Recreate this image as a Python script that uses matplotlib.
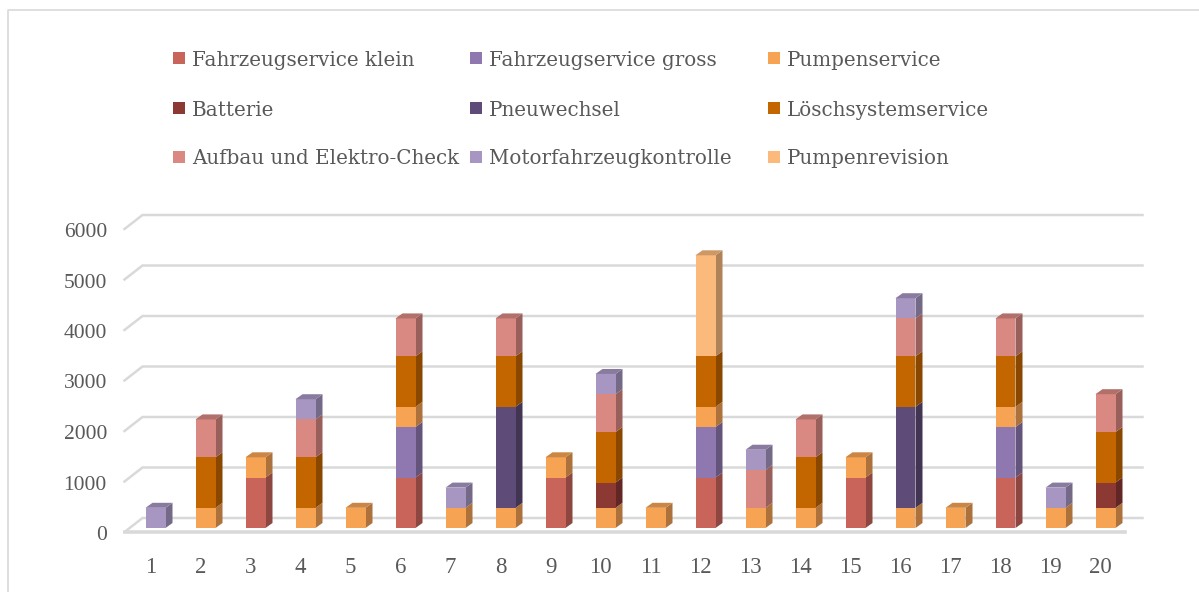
import numpy as np
import matplotlib
matplotlib.use("Agg")
import matplotlib.pyplot as plt
from matplotlib.patches import Polygon, Rectangle
from matplotlib.lines import Line2D
from matplotlib.colors import to_rgb
from matplotlib.transforms import ScaledTranslation

plt.rcParams["font.family"] = ["Liberation Serif", "DejaVu Serif"]

#
# Data
#
categories = [str(i) for i in range(1, 21)]

fzs_klein      = [0, 0, 1000, 0, 0, 1000, 0, 0, 1000, 0, 0, 1000, 0, 0, 1000, 0, 0, 1000, 0, 0]
fzs_gross      = [0, 0, 0, 0, 0, 1000, 0, 0, 0, 0, 0, 1000, 0, 0, 0, 0, 0, 1000, 0, 0]
pumpenservice  = [0, 400, 400, 400, 400, 400, 400, 400, 400, 400, 400, 400, 400, 400, 400, 400, 400, 400, 400, 400]
batterie       = [0, 0, 0, 0, 0, 0, 0, 0, 0, 500, 0, 0, 0, 0, 0, 0, 0, 0, 0, 500]
pneuwechsel    = [0, 0, 0, 0, 0, 0, 0, 2000, 0, 0, 0, 0, 0, 0, 0, 2000, 0, 0, 0, 0]
loeschsystem   = [0, 1000, 0, 1000, 0, 1000, 0, 1000, 0, 1000, 0, 1000, 0, 1000, 0, 1000, 0, 1000, 0, 1000]
aufbau         = [0, 750, 0, 750, 0, 750, 0, 750, 0, 750, 0, 0, 750, 750, 0, 750, 0, 750, 0, 750]
motorfz        = [400, 0, 0, 400, 0, 0, 400, 0, 0, 400, 0, 0, 400, 0, 0, 400, 0, 0, 400, 0]
pumpenrevision = [0, 0, 0, 0, 0, 0, 0, 0, 0, 0, 0, 2000, 0, 0, 0, 0, 0, 0, 0, 0]

series = [
    ("Fahrzeugservice klein", fzs_klein, "#C9645B"),
    ("Fahrzeugservice gross", fzs_gross, "#8F78B0"),
    ("Pumpenservice", pumpenservice, "#F7A354"),
    ("Batterie", batterie, "#8C3833"),
    ("Pneuwechsel", pneuwechsel, "#5E4B78"),
    ("Löschsystemservice", loeschsystem, "#C46600"),
    ("Aufbau und Elektro-Check", aufbau, "#D98882"),
    ("Motorfahrzeugkontrolle", motorfz, "#A796C2"),
    ("Pumpenrevision", pumpenrevision, "#FBB97C"),
]

yticks = [0, 1000, 2000, 3000, 4000, 5000, 6000]

#
# Layout (pixels -> data units)
#
W_PX, H_PX = 1199, 592
fig = plt.figure(figsize=(W_PX / 100, H_PX / 100), dpi=100)
ax_left, ax_right, ax_bottom, ax_top = 130.5, 1130.5, 528, 225
ax = fig.add_axes([ax_left / W_PX, (H_PX - ax_bottom) / H_PX,
                   (ax_right - ax_left) / W_PX, (ax_bottom - ax_top) / H_PX])
ax.set_xlim(0.5, 20.5)
ax.set_ylim(0, 6000)

ux = 20 / (ax_right - ax_left)        # data units per px (x)
uy = 6000 / (ax_bottom - ax_top)      # data units per px (y)

DX, DY = 7 * ux, 5 * uy               # bar depth
BX, BY = 12 * ux, 10 * uy             # back wall
FX, FY = -6 * ux, -4 * uy             # floor front edge
BAR_W = 20 * ux

grid_c = "#D9D9D9"
text_c = "#595959"

# gridlines: left wall diagonal + back wall
for v in yticks:
    ax.add_line(Line2D([0.5 + FX, 0.5 + BX, 20.5 + BX], [v + FY, v + BY, v + BY],
                       color=grid_c, lw=1.8, zorder=0, clip_on=False,
                       solid_joinstyle="miter"))
ax.add_line(Line2D([0.5 + FX, 20.5 + FX], [FY, FY], color=grid_c, lw=2.6,
                   zorder=0, clip_on=False))


def shade(c, f):
    r, g, b = to_rgb(c)
    return (r * f, g * f, b * f)


x = np.arange(1, 21)
bottom = np.zeros(20)
for name, vals, col in series:
    vals = np.array(vals, dtype=float)
    for i in range(20):
        if vals[i] <= 0:
            continue
        b, t = bottom[i], bottom[i] + vals[i]
        xl, xr = x[i] - BAR_W / 2, x[i] + BAR_W / 2
        ax.add_patch(Rectangle((xl, b), BAR_W, vals[i], facecolor=col,
                               edgecolor="none", zorder=3, clip_on=False))
        ax.add_patch(Polygon([(xr, b), (xr + DX, b + DY), (xr + DX, t + DY), (xr, t)],
                             closed=True, facecolor=shade(col, 0.7),
                             edgecolor="none", zorder=2, clip_on=False))
    bottom += vals

# top faces, colour of the topmost segment
for i in range(20):
    top_col = None
    for name, vals, col in series:
        if vals[i] > 0:
            top_col = col
    t = bottom[i]
    xl, xr = x[i] - BAR_W / 2, x[i] + BAR_W / 2
    ax.add_patch(Polygon([(xl, t), (xl + DX, t + DY), (xr + DX, t + DY), (xr, t)],
                         closed=True, facecolor=shade(top_col, 0.82),
                         edgecolor="none", zorder=4, clip_on=False))

# axes / ticks
for s in ax.spines.values():
    s.set_visible(False)
ax.set_xticks(x, categories)
ax.set_yticks(yticks, [str(v) for v in yticks])
ax.tick_params(length=0, labelcolor=text_c)
ax.tick_params(axis="x", pad=21, labelsize=16.5)
ax.tick_params(axis="y", pad=17, labelsize=15.5)
for lab in ax.get_xticklabels():
    lab.set_transform(lab.get_transform() + ScaledTranslation(-5 / 100, 0, fig.dpi_scale_trans))
for lab in ax.get_yticklabels():
    lab.set_transform(lab.get_transform() + ScaledTranslation(0, -5 / 100, fig.dpi_scale_trans))
ax.set_facecolor("none")

# legend, 3 columns, row-major
col_x = [173, 470, 768]
row_y = [58, 108, 157]
for k, (name, vals, col) in enumerate(series):
    px, py = col_x[k % 3], row_y[k // 3]
    fig.patches.append(Rectangle((px / W_PX, (H_PX - py - 6) / H_PX), 12 / W_PX, 12 / H_PX,
                                 transform=fig.transFigure, facecolor=col, edgecolor="none"))
    fig.text((px + 19) / W_PX, (H_PX - py) / H_PX, name, fontsize=14.3, color=text_c,
             family=["DejaVu Serif"], va="center_baseline", ha="left")

# chart border
fig.add_artist(Line2D([8 / W_PX, 8 / W_PX, 1], [0, (H_PX - 10) / H_PX, (H_PX - 10) / H_PX],
                      transform=fig.transFigure, color=grid_c, lw=1.2))

fig.savefig("out.png", dpi=100, facecolor="white")
